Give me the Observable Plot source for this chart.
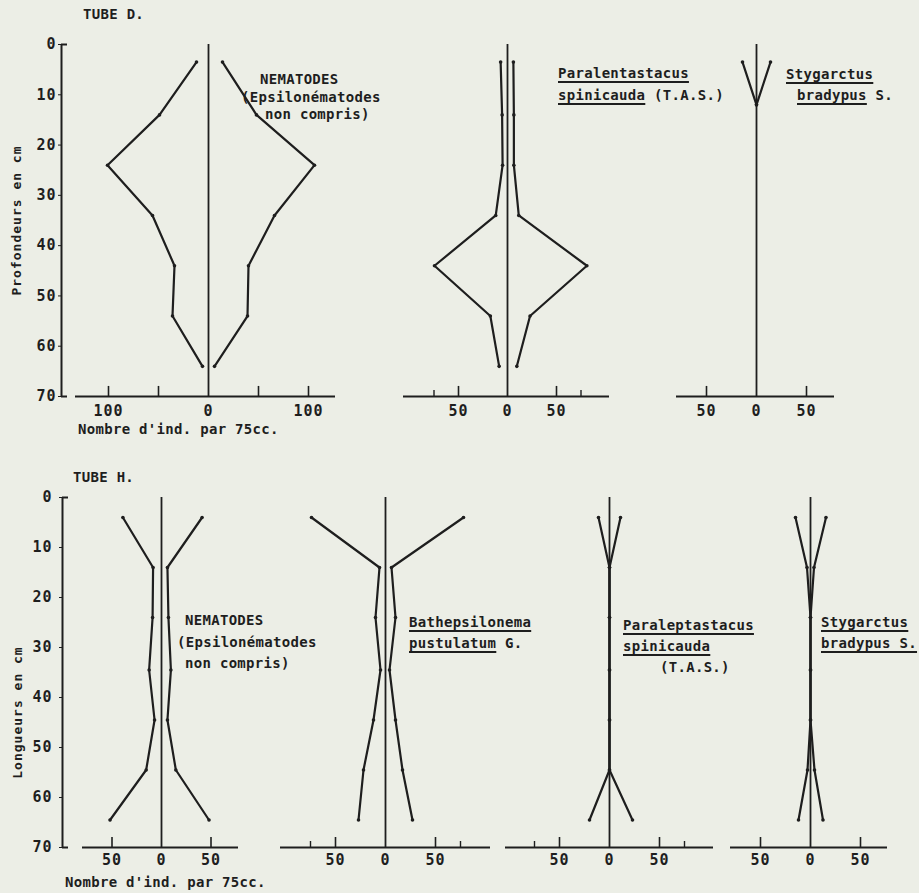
<!DOCTYPE html>
<html><head><meta charset="utf-8">
<script src="https://cdn.jsdelivr.net/npm/d3@7"></script>
<script src="https://cdn.jsdelivr.net/npm/@observablehq/plot@0.6"></script>
<style>
html,body{margin:0;padding:0;background:#eceee6;}
#fig{position:relative;width:919px;height:893px;overflow:hidden;background:#eceee6;font-family:"DejaVu Sans Mono",monospace;font-weight:bold;font-size:14px;color:#1e1e1e;}
.t{position:absolute;white-space:pre;line-height:14px;letter-spacing:0.3px;}
.u{text-decoration:underline;text-decoration-thickness:1.5px;text-underline-offset:3px;}
</style></head><body><div id="fig"></div>
<script>
// ---- data (depth in cm, number of individuals per 75 cc, left / right half of each kite) ----
const depthTicks = [0, 10, 20, 30, 40, 50, 60, 70];
const depthD = [3.5, 14, 24, 34, 44, 54, 64];
const depthH = [4, 14, 24, 34.5, 44.5, 54.5, 64.5];
const depthStygD = [3.5, 12];

const nemD_left  = [12, 49, 101, 56, 34, 36, 6];
const nemD_right = [14, 48, 106, 66, 40, 39, 6];
const paraD_left  = [7, 5.5, 5, 12, 74.5, 17.5, 8.5];
const paraD_right = [6, 6.5, 6.5, 11.5, 81, 23, 9.5];
const stygD_left  = [14, 0];
const stygD_right = [14, 0];

const nemH_left  = [39, 8.5, 9, 12.5, 7, 15.5, 52];
const nemH_right = [41, 6, 7, 9.5, 6, 14.5, 48];
const bathH_left  = [74, 6, 10, 5, 12, 22, 27];
const bathH_right = [78, 6, 10, 4, 10, 17, 27];
const paraH_left  = [11, 0, 0, 0, 0, 0, 20];
const paraH_right = [11, 0, 0, 0, 0, 0, 23];
const stygH_left  = [15, 3.5, 0, 0, 0, 3, 12];
const stygH_right = [15.5, 3.5, 0, 0, 0, 4, 12.5];

const labels100 = [-100, 0, 100];
const labels50 = [-50, 0, 50];
const ticks100 = [-100, -50, 50, 100];
const ticks50 = [-50, 50];
const ticks75 = [-75, 75];

// ---- drawing ----
const ink = "#1e1e1e";
const fig = document.getElementById("fig");

function kite(o) {
  const [x0, x1] = o.domain;
  const marks = [
    Plot.ruleY([70], {x1: o.axisFrom ?? x0, x2: x1, stroke: ink, strokeWidth: 1.8}),
    Plot.ruleX([0], {y1: 0, y2: 70, stroke: ink, strokeWidth: 1.8}),
    Plot.ruleX(o.tall, {y1: 70, y2: 68, stroke: ink, strokeWidth: 1.6}),
    Plot.ruleX(o.short || [], {y1: 70, y2: 68.8, stroke: ink, strokeWidth: 1.4}),
    Plot.axisX({ticks: o.labels, tickSize: 0, tickPadding: o.xPad, tickFormat: d => String(Math.abs(d)), fontSize: 15, fill: ink}),
    Plot.line(o.depth, {x: (d, i) => -o.L[i], y: d => d, stroke: ink, strokeWidth: 2.2}),
    Plot.line(o.depth, {x: (d, i) => o.R[i], y: d => d, stroke: ink, strokeWidth: 2.2}),
    Plot.dot(o.depth, {x: (d, i) => -o.L[i], y: d => d, r: 1.8, fill: ink}),
    Plot.dot(o.depth, {x: (d, i) => o.R[i], y: d => d, r: 1.8, fill: ink})
  ];
  if (o.yAxis) {
    marks.push(
      Plot.ruleX([x0], {y1: 0, y2: 70, stroke: ink, strokeWidth: 2}),
      Plot.ruleY([0, 70], {x1: x0, x2: x0 + 6 / o.k, stroke: ink, strokeWidth: 2}),
      Plot.axisY({ticks: depthTicks, tickSize: 3, tickPadding: o.yPad, fontSize: 15, fill: ink, stroke: ink, label: null}),
      Plot.text([o.ylabel], {x: x0, y: o.ylabelAt, dx: -45, rotate: -90, fontSize: 13, fill: ink})
    );
  }
  const marginLeft = o.yAxis ? o.frame[0] : 10;
  const marginRight = 10;
  const width = marginLeft + (o.frame[1] - o.frame[0]) + marginRight;
  const svg = Plot.plot({
    width,
    height: o.height,
    marginTop: o.mTop,
    marginBottom: o.mBottom,
    marginLeft,
    marginRight,
    x: {domain: o.domain, axis: null},
    y: {domain: [0, 70], reverse: true, label: null, ...(o.yAxis ? {} : {axis: null})},
    style: {background: "transparent", fontFamily: "'DejaVu Sans Mono', monospace", fontWeight: "bold", fontSize: "15px", letterSpacing: "1px", color: ink, overflow: "visible"},
    marks
  });
  svg.style.position = "absolute";
  svg.style.left = (o.frame[0] - marginLeft) + "px";
  svg.style.top = o.svgTop + "px";
  fig.appendChild(svg);
}

// Tube D: depth 0 at y=44, 70 at y=396
const D = {svgTop: 0, height: 440, mTop: 44, mBottom: 44, xPad: 9};
// Tube H: depth 0 at y=497, 70 at y=847
const H = {svgTop: 450, height: 443, mTop: 47, mBottom: 46, xPad: 6.5};

// frame = pixel extents of each little x axis; domain follows from centre and px/unit
function dom(frame, c, k) { return [(frame[0] - c) / k, (frame[1] - c) / k]; }

kite({...D, frame: [61, 335], domain: dom([61, 335], 208, 1), k: 1, axisFrom: (75 - 208),
  tall: ticks100, labels: labels100, depth: depthD, L: nemD_left, R: nemD_right,
  yAxis: true, yPad: 2, ylabel: "Profondeurs en cm", ylabelAt: 35});
kite({...D, frame: [403, 609], domain: dom([403, 609], 507, 0.98), k: 0.98,
  tall: ticks50, short: ticks75, labels: labels50, depth: depthD, L: paraD_left, R: paraD_right});
kite({...D, frame: [676, 834], domain: dom([676, 834], 756, 1), k: 1,
  tall: ticks50, labels: labels50, depth: depthStygD, L: stygD_left, R: stygD_right});

kite({...H, frame: [62, 238], domain: dom([62, 238], 161, 0.99), k: 0.99, axisFrom: (82 - 161) / 0.99,
  tall: ticks50, labels: labels50, depth: depthH, L: nemH_left, R: nemH_right,
  yAxis: true, yPad: 7, ylabel: "Longueurs en cm", ylabelAt: 43});
kite({...H, frame: [280, 490], domain: dom([280, 490], 385, 1), k: 1,
  tall: ticks50, short: ticks75, labels: labels50, depth: depthH, L: bathH_left, R: bathH_right});
kite({...H, frame: [505, 713], domain: dom([505, 713], 609, 1), k: 1,
  tall: ticks50, short: ticks75, labels: labels50, depth: depthH, L: paraH_left, R: paraH_right});
kite({...H, frame: [730, 887], domain: dom([730, 887], 810, 1), k: 1,
  tall: ticks50, labels: labels50, depth: depthH, L: stygH_left, R: stygH_right});

// ---- texts ----
const texts = [
  [83, 14, "TUBE D."],
  [260, 79, "NEMATODES"],
  [241, 97, "(Epsilonématodes"],
  [265, 114, "non compris)"],
  [558, 73, "<span class='u'>Paralentastacus</span>"],
  [558, 95, "<span class='u'>spinicauda</span> (T.A.S.)"],
  [786, 74, "<span class='u'>Stygarctus</span>"],
  [797, 95, "<span class='u'>bradypus</span> S."],
  [78, 429, "Nombre d'ind. par 75cc."],
  [73, 477, "TUBE H."],
  [185, 620, "NEMATODES"],
  [177, 642, "(Epsilonématodes"],
  [185, 663, "non compris)"],
  [409, 622, "<span class='u'>Bathepsilonema</span>"],
  [409, 643, "<span class='u'>pustulatum</span> G."],
  [623, 625, "<span class='u'>Paraleptastacus</span>"],
  [623, 646, "<span class='u'>spinicauda</span>"],
  [660, 667, "(T.A.S.)"],
  [821, 622, "<span class='u'>Stygarctus</span>"],
  [821, 643, "<span class='u'>bradypus S.</span>"],
  [65, 882, "Nombre d'ind. par 75cc."]
];
for (const [x, y, html] of texts) {
  const d = document.createElement("div");
  d.className = "t";
  d.style.left = x + "px";
  d.style.top = (y - 7) + "px";
  d.innerHTML = html;
  fig.appendChild(d);
}
</script></body></html>
